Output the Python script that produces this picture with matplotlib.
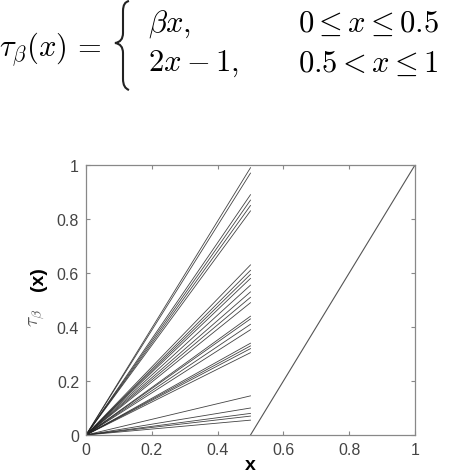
import numpy as np
import matplotlib.pyplot as plt
from matplotlib.path import Path
from matplotlib.patches import PathPatch

plt.rcParams['mathtext.fontset'] = 'cm'
plt.rcParams['font.family'] = ['Liberation Sans', 'DejaVu Sans']

# value of tau_beta at x = 0.5, i.e. beta/2
ends = [0.99, 0.97, 0.89, 0.87, 0.85, 0.83,
        0.63, 0.61, 0.595, 0.58, 0.555, 0.53, 0.51, 0.49,
        0.44, 0.43, 0.41, 0.39, 0.34, 0.33, 0.32, 0.305,
        0.145, 0.10, 0.08, 0.07, 0.055]
betas = [2 * e for e in ends]

xticks = [0, 0.2, 0.4, 0.6, 0.8, 1]
yticks = [0, 0.2, 0.4, 0.6, 0.8, 1]

W, H = 451, 477
fig = plt.figure(figsize=(W/100, H/100), dpi=100)
ax = fig.add_axes([86/W, 1-436/H, 329/W, 270/H])

x1 = np.array([0, 0.5])
for b in betas:
    ax.plot(x1, b*x1, color='#222222', lw=0.6, alpha=0.85)
x2 = np.array([0.5, 1])
ax.plot(x2, 2*x2-1, color='#555555', lw=0.8)

ax.set_xlim(0, 1)
ax.set_ylim(0, 1)
ax.set_xticks(xticks)
ax.set_yticks(yticks)
ax.set_xticklabels(['0', '0.2', '0.4', '0.6', '0.8', '1'])
ax.set_yticklabels(['0', '0.2', '0.4', '0.6', '0.8', '1'])
ax.tick_params(direction='in', top=True, right=True, length=3,
               color='#888888', labelcolor='#444444', labelsize=11.5, pad=5)
for s in ax.spines.values():
    s.set_color('#888888')
    s.set_linewidth(0.9)

fig.text(250/W, 1-466/H, 'x', ha='center', va='center',
         fontsize=14, fontweight='bold', color='black')
fig.text(38/W, 1-279/H, '(x)', ha='center', va='center', rotation=90,
         fontsize=14, fontweight='bold', color='black')
fig.text(37/W, 1-318/H, r'$\tau_\beta$', ha='center', va='center', rotation=90,
         fontsize=14, color='#555555')

# formula at the top
fs = 22
fig.text(101/W, 1-49/H, r'$\tau_\beta(x)\,=$', ha='right', va='center', fontsize=fs)

# left brace, drawn as a path in pixel coords
def P(px, py):
    return (px/W, 1-py/H)
verts = [P(129, 2), P(123, 3), P(123, 12), P(123, 34), P(123, 43), P(115, 44),
         P(123, 45), P(123, 54), P(123, 80), P(123, 89), P(129, 91)]
codes = [Path.MOVETO, Path.CURVE3, Path.CURVE3, Path.LINETO, Path.CURVE3, Path.CURVE3,
         Path.CURVE3, Path.CURVE3, Path.LINETO, Path.CURVE3, Path.CURVE3]
fig.patches.append(PathPatch(Path(verts, codes), transform=fig.transFigure,
                             fill=False, lw=1.5, edgecolor='#222222'))

fig.text(148/W, 1-24/H, r'$\beta x,$', ha='left', va='center', fontsize=fs)
fig.text(148/W, 1-64/H, r'$2x-1,$', ha='left', va='center', fontsize=fs)
fig.text(298/W, 1-24/H, r'$0\leq x\leq 0.5$', ha='left', va='center', fontsize=fs)
fig.text(298/W, 1-64/H, r'$0.5<x\leq 1$', ha='left', va='center', fontsize=fs)

fig.savefig('out.png', dpi=100, facecolor='white')
